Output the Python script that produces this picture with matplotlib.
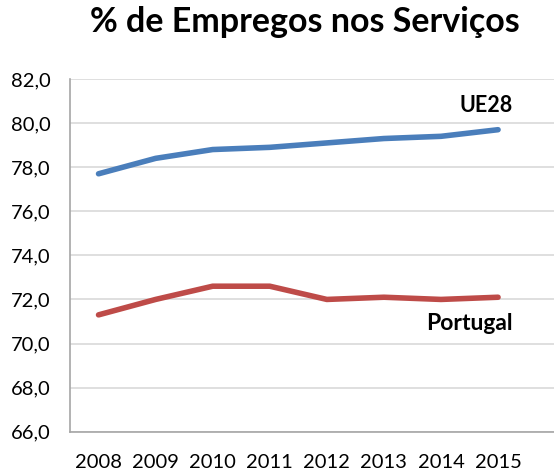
import numpy as np
import matplotlib
matplotlib.use('Agg')
import matplotlib.pyplot as plt
from matplotlib.ticker import FuncFormatter

plt.rcParams['font.family'] = ['Lato', 'DejaVu Sans']

years = ['2008', '2009', '2010', '2011', '2012', '2013', '2014', '2015']
ue28 = [77.7, 78.4, 78.8, 78.9, 79.1, 79.3, 79.4, 79.7]
portugal = [71.3, 72.0, 72.6, 72.6, 72.0, 72.1, 72.0, 72.1]

blue = '#4a7ebb'
red = '#be4b48'

def main():
    fig = plt.figure(figsize=(5.54, 4.75), dpi=100)
    ax = fig.add_axes([70/554, 1 - 431.7/475, 1 - 70/554, (431.7 - 79)/475])

    x = np.arange(len(years))
    ax.plot(x, ue28, color=blue, lw=4, solid_capstyle='round', zorder=3)
    ax.plot(x, portugal, color=red, lw=4, solid_capstyle='round', zorder=3)

    ax.set_ylim(66, 82)
    ax.set_xlim(-0.5, 7.98)
    ax.set_yticks(np.arange(66, 82.1, 2))
    ax.yaxis.set_major_formatter(FuncFormatter(lambda v, p: ('%.1f' % v).replace('.', ',')))
    ax.set_xticks(x)
    ax.set_xticklabels(years)
    ax.tick_params(length=0, labelsize=14.5, colors='black')
    ax.tick_params(axis='y', pad=14)
    ax.tick_params(axis='x', pad=16)

    ax.grid(axis='y', color='#d9d9d9', lw=1.2)
    ax.set_axisbelow(True)
    for s in ['top', 'right']:
        ax.spines[s].set_visible(False)
    for s in ['left', 'bottom']:
        ax.spines[s].set_color('#a6a6a6')
        ax.spines[s].set_linewidth(1.2)

    ax.text(7.25, 80.8, 'UE28', fontsize=15.5, fontweight='bold', ha='right', va='center')
    ax.text(7.25, 70.9, 'Portugal', fontsize=16.5, fontweight='bold', ha='right', va='center')

    fig.text(305/554, 1 - 22/475, '% de Empregos nos Serviços', fontsize=24.5,
             fontweight='bold', ha='center', va='center')

    fig.savefig('out.png', dpi=100)


if __name__ == '__main__':
    main()
